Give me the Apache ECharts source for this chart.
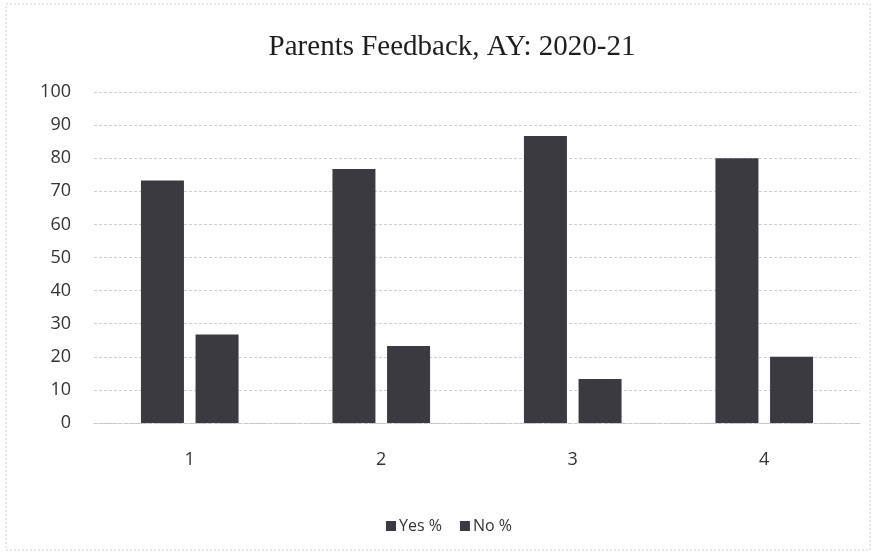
<!DOCTYPE html>
<html>
<head>
<meta charset="utf-8">
<script src="https://cdn.jsdelivr.net/npm/echarts@6/dist/echarts.min.js"></script>
<style>
  html, body { margin: 0; padding: 0; background: #fff; }
  #chart { width: 876px; height: 556px; }
</style>
</head>
<body>
<div id="chart"></div>
<script>
// data
var categories = ['1', '2', '3', '4'];
var yesPct = [73.3, 76.7, 86.7, 80];
var noPct = [26.7, 23.3, 13.3, 20];
var yTicks = { min: 0, max: 100, interval: 10 };

var myChart = echarts.init(document.getElementById('chart'));

var option = {
  animation: false,
  backgroundColor: '#fff',
  graphic: [{
    type: 'rect',
    shape: { x: 6, y: 4, width: 864, height: 546 },
    style: { fill: 'none', stroke: '#d0d0d0', lineWidth: 1, lineDash: [2, 2] }
  }],
  title: {
    text: 'Parents Feedback, AY: 2020-21',
    left: 447,
    textAlign: 'center',
    top: 28,
    textStyle: {
      fontFamily: 'Liberation Serif',
      fontWeight: 'normal',
      fontSize: 29,
      color: '#1e1e1e'
    }
  },
  legend: {
    top: 513,
    left: 381,
    itemWidth: 10,
    itemHeight: 10,
    itemGap: 18,
    icon: 'rect',
    textStyle: { fontFamily: 'Open Sans', fontSize: 16, color: '#333', padding: [0, 0, 0, -2] },
    data: ['Yes %', 'No %']
  },
  grid: {
    left: 94,
    right: 16,
    top: 92,
    bottom: 133
  },
  xAxis: {
    type: 'category',
    data: categories,
    axisTick: { show: false },
    axisLine: { lineStyle: { color: '#c8c8c8', type: 'dashed' } },
    axisLabel: {
      fontFamily: 'Open Sans',
      fontSize: 18,
      color: '#333',
      margin: 28
    }
  },
  yAxis: {
    type: 'value',
    min: yTicks.min,
    max: yTicks.max,
    interval: yTicks.interval,
    axisLine: { show: false },
    axisTick: { show: false },
    splitLine: { lineStyle: { color: '#cfcfcf', type: [3, 2] } },
    axisLabel: {
      fontFamily: 'Open Sans',
      fontSize: 18,
      color: '#333',
      margin: 23
    }
  },
  series: [
    {
      name: 'Yes %',
      type: 'bar',
      data: yesPct,
      barWidth: 43,
      barGap: '27%',
      itemStyle: { color: '#3b3a40' }
    },
    {
      name: 'No %',
      type: 'bar',
      data: noPct,
      barWidth: 43,
      itemStyle: { color: '#3b3a40' }
    }
  ]
};

myChart.setOption(option);
</script>
</body>
</html>
